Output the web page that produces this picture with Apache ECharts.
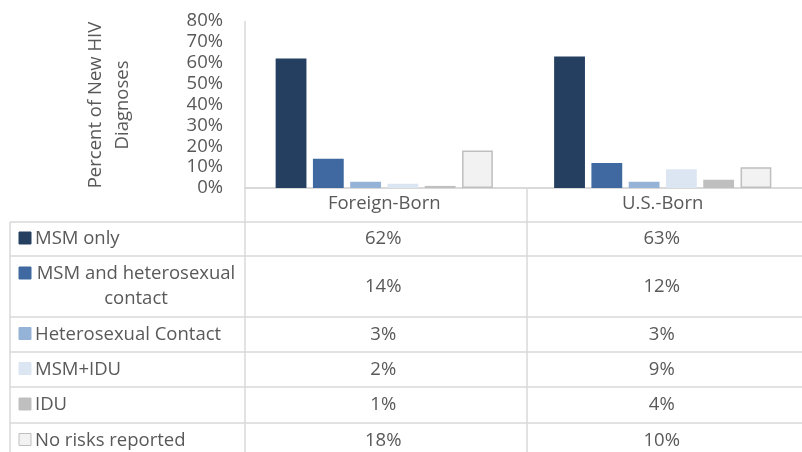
<!DOCTYPE html>
<html>
<head>
<meta charset="utf-8">
<script src="https://cdn.jsdelivr.net/npm/echarts@6/dist/echarts.min.js"></script>
<style>
  html, body { margin: 0; padding: 0; background: #fff; }
  #main { width: 802px; height: 452px; }
</style>
</head>
<body>
<div id="main"></div>
<script>
// categories and risk groups
const categories = ['Foreign-Born', 'U.S.-Born']
const riskNames = ['MSM only', 'MSM and heterosexual\ncontact', 'Heterosexual Contact', 'MSM+IDU', 'IDU', 'No risks reported']
// percent of new HIV diagnoses per risk group
const msmOnly = [62, 63]
const msmHetero = [14, 12]
const heteroContact = [3, 3]
const msmIdu = [2, 9]
const idu = [1, 4]
const noRisk = [18, 10]
const yTicks = [0, 10, 20, 30, 40, 50, 60, 70, 80]

const seriesData = [msmOnly, msmHetero, heteroContact, msmIdu, idu, noRisk]
const fills = ['#253F61', '#3F69A0', '#95B3D7', '#DCE6F2', '#BFBFBF', '#F2F2F2']
const borders = ['#253F61', '#3F69A0', '#95B3D7', '#DCE6F2', '#BFBFBF', '#BFBFBF']

const FONT = 'Open Sans'
const FS = 18.5
const TXT = '#595959'
const LINE = '#D9D9D9'

const myChart = echarts.init(document.getElementById('main'), null, { renderer: 'canvas' })

const option = {
  animation: false,
  textStyle: { fontFamily: FONT },
  grid: { left: 245, right: -9, top: 21, bottom: 264, containLabel: false },
  xAxis: {
    type: 'category',
    data: categories,
    axisLine: { lineStyle: { color: LINE, width: 2 } },
    axisTick: { show: false },
    axisLabel: { color: TXT, fontSize: FS, fontFamily: FONT, margin: 6 }
  },
  yAxis: {
    type: 'value',
    min: yTicks[0],
    max: yTicks[yTicks.length - 1],
    interval: 10,
    axisLine: { show: false },
    axisTick: { show: false },
    splitLine: { show: false },
    axisLabel: { color: TXT, fontSize: FS, fontFamily: FONT, margin: 22, formatter: '{value}%' }
  },
  series: seriesData.map((d, i) => ({
    name: riskNames[i],
    type: 'bar',
    data: d,
    barGap: '21%',
    barCategoryGap: '22%',
    itemStyle: { color: fills[i], borderColor: borders[i], borderWidth: 1.5 }
  }))
}
myChart.setOption(option)

// table below the axis
const rowEdges = [222, 256, 317, 352, 387, 423, 458]
const graphic = []
const lineStyle = { stroke: LINE, lineWidth: 1.5 }
graphic.push({ type: 'line', shape: { x1: 245, y1: 21, x2: 245, y2: 452 }, style: lineStyle, z: 10 })
graphic.push({ type: 'line', shape: { x1: 527, y1: 188, x2: 527, y2: 452 }, style: lineStyle, z: 10 })
graphic.push({ type: 'line', shape: { x1: 10, y1: 222, x2: 10, y2: 452 }, style: lineStyle, z: 10 })
rowEdges.forEach(y => {
  graphic.push({ type: 'line', shape: { x1: 10, y1: y, x2: 802, y2: y }, style: lineStyle, z: 10 })
})
const colX = categories.map(c => myChart.convertToPixel({ xAxisIndex: 0 }, c))
const font = FS + 'px "' + FONT + '"'
riskNames.forEach((name, r) => {
  const top = rowEdges[r]
  const mid = (rowEdges[r] + rowEdges[r + 1]) / 2
  const twoLine = name.indexOf('\n') >= 0
  const keyY = twoLine ? top + 17 : mid - 1
  graphic.push({
    type: 'rect',
    shape: { x: 19, y: keyY - 6, width: 12, height: 12 },
    style: { fill: fills[r], stroke: borders[r], lineWidth: 1 },
    z: 11
  })
  graphic.push({
    type: 'text',
    x: twoLine ? 136 : 35,
    y: twoLine ? top + 30 : mid,
    style: {
      text: name,
      fill: TXT,
      font: font,
      align: twoLine ? 'center' : 'left',
      verticalAlign: 'middle',
      lineHeight: 25
    },
    z: 11
  })
  seriesData[r].forEach((v, c) => {
    graphic.push({
      type: 'text',
      x: colX[c] - 1,
      y: mid,
      style: { text: v + '%', fill: TXT, font: font, align: 'center', verticalAlign: 'middle' },
      z: 11
    })
  })
})
// y axis title
graphic.push({
  type: 'text',
  x: 109,
  y: 105,
  rotation: Math.PI / 2,
  style: {
    text: 'Percent of New HIV\nDiagnoses',
    fill: TXT,
    font: font,
    align: 'center',
    verticalAlign: 'middle',
    lineHeight: 27
  }
})
myChart.setOption({ graphic: graphic })
window.onresize = () => myChart.resize()
</script>
</body>
</html>
